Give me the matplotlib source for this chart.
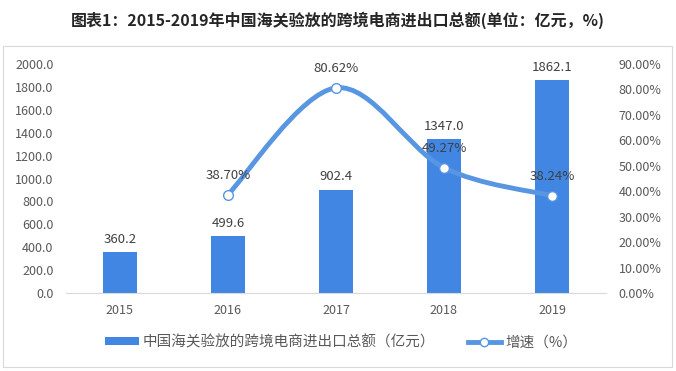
import matplotlib
matplotlib.use("Agg")
import matplotlib.pyplot as plt
from matplotlib.path import Path
from matplotlib.patches import PathPatch, Rectangle, Patch
from matplotlib.lines import Line2D
import numpy as np

plt.rcParams['font.family'] = ['Noto Sans CJK SC', 'DejaVu Sans']

# 数据
years = ["2015", "2016", "2017", "2018", "2019"]
totals = [360.2, 499.6, 902.4, 1347.0, 1862.1]
growth_years = ["2016", "2017", "2018", "2019"]
growth = [38.70, 80.62, 49.27, 38.24]

title = "图表1：2015-2019年中国海关验放的跨境电商进出口总额(单位：亿元，%)"
bar_name = "中国海关验放的跨境电商进出口总额（亿元）"
line_name = "增速（%）"

bar_color = "#4186E2"
line_color = "#5896E2"
tick_color = "#595959"
label_color = "#404040"

fig = plt.figure(figsize=(6.76, 3.71), dpi=100)
fig.patch.set_facecolor("white")
fig.patches.append(Rectangle((0.0044, 0.0108), 0.9896, 0.865, transform=fig.transFigure,
                             fill=False, edgecolor="#D9D9D9", lw=0.8))

ax = fig.add_axes([0.0976, 0.2102, 0.7988, 0.6173])
ax2 = ax.twinx()

x = np.arange(len(years))
ax.bar(x, totals, width=0.31, color=bar_color, zorder=2)
for xi, v in zip(x, totals):
    ax.annotate(f"{v:.1f}", (xi, v), xytext=(0, 4.5), textcoords="offset points",
                ha="center", va="bottom", fontsize=9.5, color=label_color)

ax.set_xlim(-0.5, len(years) - 0.5)
ax.set_ylim(0, 2000)
ax.set_yticks(np.arange(0, 2001, 200))
ax.set_yticklabels([f"{v:.1f}" for v in np.arange(0, 2001, 200)])
ax.set_xticks(x)
ax.set_xticklabels(years)
ax.tick_params(axis="both", length=0, labelsize=9, colors=tick_color)
ax.tick_params(axis="y", pad=9)
ax.tick_params(axis="x", pad=8)
for s in ["top", "right", "left"]:
    ax.spines[s].set_visible(False)
ax.spines["bottom"].set_color("#D9D9D9")

ax2.set_ylim(0, 90)
ax2.set_yticks(np.arange(0, 91, 10))
ax2.set_yticklabels([f"{v:.2f}%" for v in np.arange(0, 91, 10)])
ax2.tick_params(axis="y", length=0, labelsize=9, colors=tick_color, pad=9)
for s in ax2.spines.values():
    s.set_visible(False)

# 平滑曲线（Excel 风格贝塞尔）
gx = np.array([years.index(y) for y in growth_years], dtype=float)
pts = np.column_stack([gx, growth])
verts = [tuple(pts[0])]
codes = [Path.MOVETO]
n = len(pts)
for i in range(n - 1):
    p0 = pts[i - 1] if i > 0 else pts[i]
    p1 = pts[i]
    p2 = pts[i + 1]
    p3 = pts[i + 2] if i + 2 < n else pts[i + 1]
    c1 = p1 + (p2 - p0) / 6
    c2 = p2 - (p3 - p1) / 6
    verts += [tuple(c1), tuple(c2), tuple(p2)]
    codes += [Path.CURVE4] * 3
ax2.add_patch(PathPatch(Path(verts, codes), facecolor="none", edgecolor=line_color,
                        lw=3.5, capstyle="round", zorder=3))
ax2.plot(gx, growth, ls="none", marker="o", ms=7, mfc="white", mec=line_color,
         mew=1.0, zorder=4)
for xi, v in zip(gx, growth):
    ax2.annotate(f"{v:.2f}%", (xi, v), xytext=(0, 9), textcoords="offset points",
                 ha="center", va="bottom", fontsize=9.5, color=label_color)

fig.text(0.5, 0.945, title, ha="center", va="center", fontsize=11.5,
         fontweight="bold", color="#262626")

handles = [Patch(facecolor=bar_color, edgecolor="none"),
           Line2D([], [], color=line_color, lw=3.5, marker="o", ms=6,
                  mfc="white", mec=line_color, mew=1.0)]
fig.legend(handles, [bar_name, line_name], loc="center", bbox_to_anchor=(0.505, 0.078),
           ncol=2, frameon=False, fontsize=10.5, handlelength=2.3, handleheight=0.5,
           handletextpad=0.3, columnspacing=2.2, labelcolor=tick_color)

fig.savefig("out.png", dpi=100)
